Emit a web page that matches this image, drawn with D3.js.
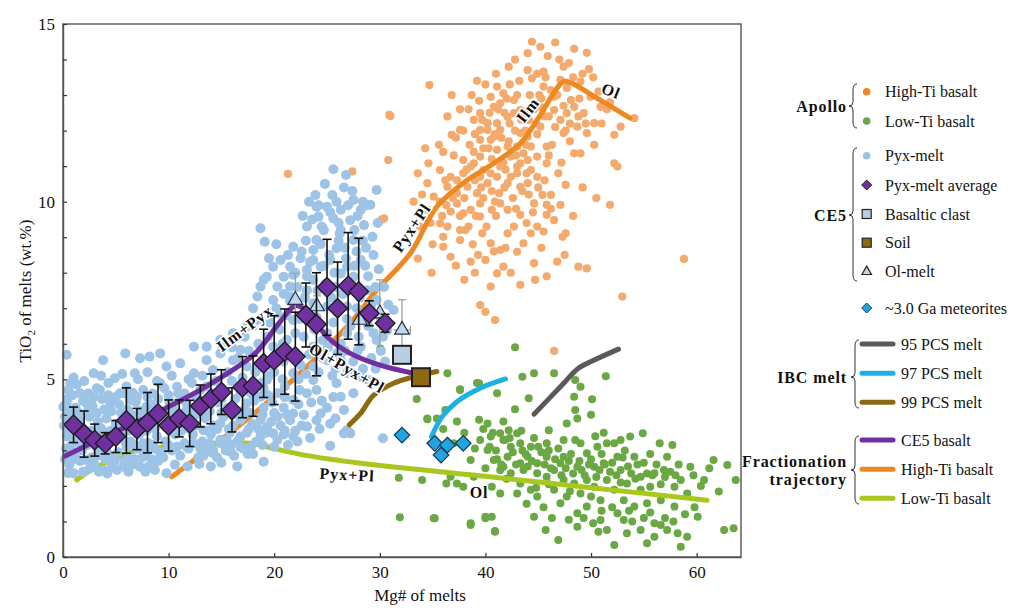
<!DOCTYPE html>
<html lang="en">
<head>
<meta charset="UTF-8">
<title>TiO2 vs Mg# of melts</title>
<script src="https://cdn.jsdelivr.net/npm/d3@7"></script>
<style>
  body { margin: 0; background: #fff; }
  svg text { font-family: "Liberation Serif", "DejaVu Serif", "Times New Roman", serif; fill: #111; }
</style>
</head>
<body>
<div id="chart"></div>
<script>
// ---- data: [Mg#, TiO2] ----
const highTiPts = [
  [46.6,14.48],[45.2,14.36],[49.6,14.19],[44.0,14.18],[42.2,13.8],[47.4,13.8],[49.8,13.73],[45.5,13.66],[34.7,13.28],[44.4,13.47],
  [41.1,13.24],[49.0,13.38],[36.8,13.0],[31.0,12.41],[39.4,12.84],[41.7,13.05],[42.7,12.86],[40.8,12.67],[39.5,12.49],[38.9,12.3],
  [40.2,12.21],[37.6,12.02],[36.8,11.88],[41.4,12.02],[40.5,11.74],[42.1,11.55],[41.1,11.46],[39.5,11.27],[30.8,11.17],[34.6,11.08],
  [35.7,10.89],[38.9,11.08],[43.3,11.08],[44.3,10.89],[45.8,11.08],[44.9,10.7],[42.1,10.52],[40.2,10.52],[36.4,10.42],[35.1,10.14],
  [37.3,9.95],[39.2,10.24],[41.3,10.24],[43.3,10.42],[45.4,10.19],[46.2,10.19],[47.6,10.47],[47.1,9.91],[45.8,9.91],[44.6,9.95],
  [30.4,9.53],[33.8,9.3],[35.7,9.39],[36.7,9.72],[38.6,9.77],[39.5,9.58],[40.6,9.77],[42.1,9.77],[43.3,9.63],[45.8,9.63],
  [47.3,9.01],[47.6,9.11],[51.8,9.91],[52.2,11.08],[52.5,10.99],[48.7,12.11],[49.6,11.93],[48.4,11.36],[49.0,11.36],[50.3,12.21],
  [52.8,12.11],[52.2,11.88],[54.1,12.35],[50.9,12.67],[49.95,12.95],[48.1,12.86],[46.5,12.58],[47.1,12.3],[45.2,12.11],[45.8,11.55],
  [47.4,11.93],[44.0,11.83],[43.6,11.36],[44.9,11.27],[37.9,10.8],[38.3,10.42],[36.7,10.7],[40.5,10.8],[43.0,10.8],[44.0,10.52],
  [36.0,9.01],[37.6,8.92],[38.4,9.3],[39.7,9.11],[40.5,8.83],[42.1,9.11],[43.6,8.83],[44.3,9.11],[45.5,9.16],[46.5,9.48],
  [36.7,8.45],[38.6,8.31],[40.0,8.36],[41.4,8.64],[43.0,8.59],[44.6,8.27],[46.8,8.31],[48.8,8.17],[49.6,8.12],[41.1,7.98],
  [41.7,8.17],[43.3,7.66],[44.7,7.8],[40.5,7.61],[39.5,7.09],[40.0,6.9],[40.9,6.67],[52.96,7.33],[34.5,10.52],[35.7,10.0],
  [34.5,9.77],[36.4,9.3],[37.6,9.2],[36.0,8.73],[39.5,11.74],[40.2,12.02],[39.5,12.02],[40.8,11.83],[41.1,12.21],[43.3,11.93],
  [43.0,11.55],[44.3,11.55],[42.4,11.27],[41.4,10.99],[43.0,10.99],[44.0,11.17],[42.1,12.39],[42.7,12.49],[43.3,12.58],[40.5,12.95],
  [41.4,12.77],[45.5,13.24],[46.2,13.14],[47.1,13.43],[46.5,12.95],[48.4,12.67],[49.3,12.49],[47.7,12.49],[45.2,12.67],[37.9,11.17],
  [38.6,10.99],[39.8,10.89],[41.1,10.7],[39.5,10.7],[42.4,10.7],[37.3,10.24],[37.9,9.67],[39.5,9.95],[41.4,9.95],[21.3,10.78],
  [27.4,10.85],[30.2,9.5],[30.9,12.44],[58.8,8.39],[46.5,5.8],
  [38.5,11.6],[39.0,11.9],[39.8,11.5],[40.6,11.2],[41.5,11.8],[42.3,12.2],[42.9,11.3],[43.8,12.0],[44.6,12.6],[45.3,12.9],
  [46.0,12.4],[46.8,13.0],[38.2,10.9],[39.6,10.4],[40.9,10.0],[41.8,10.4],[42.6,10.1],[43.5,10.3],[44.5,9.7],[45.6,10.6],
  [37.3,10.6],[38.0,10.1],[39.1,9.6],[40.1,9.3],[36.3,9.9],[35.9,9.6],[37.0,11.3],[41.2,12.6],[43.7,12.5],[44.9,11.9],
  [46.3,11.6],[47.6,12.0],[48.9,12.9],[50.7,13.1],[51.5,12.6],[49.2,13.6],[47.9,13.9],[45.9,14.1],[43.2,13.4],[44.9,13.6],
  [36.2,10.6],[36.9,10.1],[37.6,9.6],[38.1,9.2],[38.8,8.8],[39.3,8.5],[40.8,8.6],[41.9,8.7],[42.7,9.3],[43.9,9.4],
  [44.9,9.3],[45.3,8.7],[46.2,9.8],[46.9,10.8],[46.0,11.3],[47.2,11.1],[48.0,11.7],[48.8,12.4],[49.5,12.2],[50.3,11.6],
  [51.0,12.2],[51.8,12.8],[50.2,13.5],[48.3,13.5],[47.0,14.0],[45.1,13.0],[44.2,13.0],[43.0,13.0],[42.0,12.9],[41.0,13.6],
  [40.0,13.3],[39.2,13.4],[38.4,12.6],[37.9,12.0],[37.2,11.8],[36.0,11.4],[35.6,11.6],[34.3,11.5],[33.6,10.8],[33.2,10.0],
  [34.0,10.2],[34.8,9.4],[35.0,8.8],[33.6,8.4],[34.9,8.0],[37.2,8.2],[38.0,7.8],[39.0,8.0],[42.4,8.0],[45.8,7.9],
  [47.5,8.5],[48.3,9.6],[49.2,10.4],[50.5,10.1],[36.4,12.4],[37.6,12.6],[38.7,13.0],[42.8,14.0],[44.4,14.5],[48.4,14.3],
  [40.3,11.5],[40.9,11.9],[41.7,11.1],[42.2,11.7],[42.8,12.0],[43.4,12.3],[44.1,12.3],[43.8,11.6],[43.9,10.8],[41.9,10.9],
  [40.6,10.3],[39.8,10.1],[39.0,10.6],[38.9,11.4],[39.7,12.3],[41.8,12.5],[44.8,12.2],[45.6,12.4],[46.6,12.1],[47.4,12.7],
  [48.0,12.2],[47.7,13.2],[45.7,13.5],[44.0,13.7],[42.3,13.3],[40.4,12.5],[41.0,9.6],[42.9,9.8],[44.1,10.2],[45.0,10.4]
];

const lowTiPts = [
  [42.8,5.9],[36.4,5.17],[39.4,4.89],[37.6,4.72],[41.1,4.61],[43.5,5.07],[44.6,5.17],[46.5,5.17],[44.1,4.47],[42.8,4.16],
  [48.5,4.98],[49.0,4.79],[51.4,5.09],[48.4,4.51],[50.1,4.44],[48.5,4.14],[48.7,3.9],[50.0,4.0],[34.5,3.88],[35.4,3.9],
  [36.2,4.14],[37.3,3.81],[39.4,3.86],[40.2,3.76],[41.7,3.81],[42.2,3.57],[41.4,3.48],[43.0,3.48],[43.3,3.2],[44.3,3.1],
  [46.0,3.57],[47.4,3.29],[48.5,3.29],[49.6,2.92],[52.2,3.2],[52.8,3.29],[53.7,3.39],[54.9,3.48],[57.7,3.15],[57.2,2.82],
  [59.4,2.54],[61.6,2.73],[62.9,2.59],[63.7,2.17],[60.7,2.17],[62.1,1.84],[58.5,2.17],[56.0,2.36],[54.7,2.26],[54.1,2.82],
  [52.5,2.82],[51.2,2.64],[50.3,2.54],[48.7,2.54],[47.1,2.64],[45.8,2.82],[44.9,2.64],[43.3,2.64],[42.1,2.82],[41.7,2.54],
  [42.4,2.36],[43.3,2.07],[44.3,1.89],[43.0,1.79],[44.9,1.7],[46.5,1.89],[47.1,1.51],[47.7,1.7],[49.0,1.79],[49.6,1.42],
  [48.7,1.23],[50.9,1.6],[50.9,1.04],[52.5,1.23],[53.1,1.04],[54.1,1.42],[53.4,0.67],[54.7,0.76],[56.0,0.95],[57.2,0.76],
  [58.2,0.67],[59.1,0.57],[58.5,0.29],[56.0,0.57],[55.3,0.39],[52.2,0.34],[51.5,0.76],[50.7,0.71],[48.7,0.85],[46.9,0.48],
  [45.7,0.76],[44.6,1.13],[40.9,0.71],[40.0,1.13],[38.6,0.95],[35.1,1.09],[40.6,1.13],[62.6,0.76],[63.5,0.81],
  [39.5,3.29],[40.2,3.01],[40.8,2.73],[41.4,2.45],[42.4,3.1],[44.0,2.82],[44.9,2.36],[45.8,2.26],[46.5,2.45],[47.4,2.17],
  [48.4,2.07],[49.6,2.17],[50.3,1.98],[51.5,2.17],[52.8,2.45],[53.4,2.07],[55.6,1.98],[56.6,1.6],[57.9,1.42],[59.1,1.79],
  [60.1,1.13],[52.2,1.89],[43.6,2.45],[45.8,3.2],[47.4,2.82],[51.5,3.2],[38.6,2.73],[38.9,2.26],[37.9,1.98],[36.7,2.26],
  [40.6,1.98],[41.4,1.79],[54.7,1.89],[56.9,2.45],[57.9,1.98],[53.1,1.6],[55.3,1.51],[50.6,3.1],[47.7,3.76],[41.7,3.29],
  [40.5,3.39],[33.5,4.45],[34.5,3.9],[31.8,2.23],[34.0,2.17],[31.9,1.12],[35.2,1.09],[36.3,2.07],[37.3,2.07],[38.6,0.9],
  [40.0,1.09],[40.9,0.73],[37.6,4.7],[39.2,4.9],[30.05,5.87],
  [39.0,3.05],[40.7,3.5],[41.9,3.3],[42.6,2.95],[43.5,3.0],[44.0,2.55],[44.6,3.35],[45.3,2.95],[46.2,2.5],[46.9,3.05],
  [47.6,2.5],[48.1,2.9],[49.1,2.45],[49.8,2.6],[50.5,2.25],[51.0,2.9],[51.8,2.4],[52.8,2.1],[53.5,2.55],[54.2,2.2],
  [55.0,2.65],[55.8,2.3],[56.6,2.05],[57.5,2.4],[58.3,2.6],[59.7,2.3],[60.4,2.0],[42.0,2.2],[43.9,1.5],[45.5,1.4],
  [46.3,1.1],[47.9,1.05],[49.3,1.1],[50.2,0.95],[52.0,1.4],[53.9,1.0],[55.6,1.25],[57.0,1.1],[59.8,1.4],[61.2,2.5],
  [41.1,2.75],[40.0,2.5],[38.0,3.5],[37.0,3.2],[36.0,3.6],
  [39.8,3.6],[40.4,3.1],[41.0,3.0],[41.5,2.6],[42.3,3.35],[42.9,2.6],[43.4,3.55],[43.8,2.9],[44.4,2.7],[45.0,3.1],
  [45.6,2.6],[46.0,3.0],[46.6,2.75],[47.2,2.3],[47.9,2.7],[48.3,2.35],[48.9,2.7],[49.4,2.3],[50.0,2.75],[50.8,2.45],
  [51.3,2.6],[52.0,2.65],[52.4,2.3],[53.0,2.8],[53.8,2.35],[54.4,2.6],[55.3,2.35],[56.2,2.6],[57.0,2.25],[58.0,2.3],
  [49.0,3.2],[50.4,3.4],[51.2,3.5],[53.2,3.0],[55.6,2.9],[56.5,3.2],[44.8,1.95],[46.0,2.05],[48.0,1.85],[50.0,1.7],
  [51.0,1.3],[53.6,1.3],[55.0,1.1],[56.6,0.9],[57.8,1.0],[58.9,1.2]
];

const pyxMeltPts = [
  [25.6,10.91],[26.8,10.75],[23.9,10.19],[25.5,10.19],[27.5,10.05],[29.7,10.33],[24.0,9.86],[25.0,9.86],[26.3,9.77],[28.2,9.77],
  [29.1,9.91],[24.2,9.58],[25.6,9.53],[27.2,9.48],[28.5,9.34],[18.7,9.25],[23.1,9.3],[24.7,9.2],[26.3,9.2],[19.1,8.87],
  [24.0,8.92],[27.5,8.92],[29.3,9.01],[21.8,8.73],[23.7,8.64],[25.9,8.69],[19.5,8.41],[20.6,8.36],[22.5,8.41],[23.7,8.36],
  [25.3,8.36],[28.2,8.36],[19.9,8.17],[21.5,8.17],[23.1,8.08],[24.4,8.17],[26.9,8.17],[19.3,7.89],[20.9,7.89],[21.8,7.94],
  [23.7,7.8],[26.3,7.98],[27.5,7.89],[18.7,7.61],[20.3,7.61],[21.5,7.61],[23.1,7.51],[28.8,7.51],[18.4,7.33],[19.9,7.23],
  [21.5,7.33],[23.7,7.14],[25.0,7.05],[26.9,7.05],[29.7,7.23],[30.0,6.76],[31.3,6.95],
  [5.9,5.73],[7.3,5.59],[8.2,5.64],[9.2,5.73],[3.8,5.54],[2.9,5.17],[4.9,5.03],[6.8,5.17],[9.8,5.36],[11.1,5.45],
  [12.4,5.92],[13.6,5.54],[14.9,5.73],[16.1,5.54],[16.8,5.83],[12.4,5.17],[14.2,5.26],[17.4,5.36],[0.7,4.89],[1.6,4.61],
  [3.5,4.7],[5.4,4.61],[7.6,4.7],[9.2,4.89],[10.8,4.79],[13.0,4.7],[0.35,4.33],[2.2,4.33],[4.5,4.33],[6.4,4.42],
  [7.9,4.23],[10.1,4.33],[11.7,4.33],[17.4,4.33],[18.7,4.51],[20.3,4.61],[21.8,4.42],[23.1,4.61],[24.0,4.7],[25.9,4.89],
  [26.9,5.17],[28.2,5.07],[26.6,4.14],[21.8,4.04],[20.3,3.95],[18.7,3.86],[16.8,3.86],[14.9,3.76],[13.3,3.57],[11.4,3.67],
  [9.8,3.67],[6.7,3.67],[1.0,3.76],[0.35,3.39],[1.6,3.2],[4.1,3.01],[6.0,3.1],[7.9,3.01],[9.2,2.92],[10.8,3.1],
  [12.4,3.2],[14.2,3.01],[15.5,3.29],[16.8,3.39],[18.7,3.39],[19.9,3.48],[21.8,3.39],[23.1,3.67],[24.4,4.04],[26.6,3.48],
  [26.9,3.57],[30.3,3.34],[2.2,2.73],[1.0,2.36],[2.56,2.5],[3.8,2.45],[5.7,2.54],[7.3,2.54],[8.6,2.64],[9.8,2.36],
  [14.2,2.92],[19.0,2.68],[16.8,3.1],[14.9,3.2],
  [18.7,6.67],[17.4,6.48],[16.1,6.3],[14.9,6.11],[13.6,5.92],[20.3,6.86],[21.8,6.67],[21.2,6.11],[19.9,5.92],[23.7,5.92],
  [25.0,5.54],[26.3,5.54],[23.7,5.36],[21.8,5.17],[19.3,4.98],[23.7,4.98],[25.0,6.3],[26.9,6.3],[28.2,5.92],[29.4,6.3],
  [30.7,6.39],[26.3,4.51],[27.5,4.61],[0.35,5.69],[0.03,4.23],[0.5,2.36],[25.3,3.13],[27.2,3.48],
  // dense band
  [0.5,4.7],[1.3,4.85],[2.4,4.6],[3.2,4.75],[4.3,4.55],[6.0,4.8],[7.0,4.5],[8.5,4.6],[9.6,4.75],[11.5,4.6],
  [12.2,4.9],[13.6,4.8],[15.2,4.6],[16.0,4.95],[17.5,4.75],[18.8,4.9],[19.5,5.1],[20.8,5.0],
  [0.4,4.45],[1.2,4.2],[1.9,4.4],[2.8,4.25],[3.7,4.45],[4.6,4.1],[5.3,4.3],[6.1,4.15],[6.9,4.35],[7.7,4.1],
  [8.6,4.3],[9.4,4.05],[10.4,4.2],[11.2,4.45],[12.1,4.15],[13.0,4.35],[13.9,4.1],[14.7,4.35],[15.6,4.2],[16.3,4.45],
  [17.2,4.15],[18.1,4.4],[19.0,4.2],[19.8,4.35],[20.9,4.2],[22.3,4.3],[23.5,4.35],[25.0,4.2],
  [0.2,3.95],[0.9,4.0],[1.6,3.85],[2.5,3.95],[3.3,3.8],[4.1,3.9],[5.0,3.75],[5.8,3.95],[6.6,3.75],[7.5,3.9],
  [8.3,3.7],[9.1,3.85],[10.0,3.95],[10.9,3.75],[11.8,3.95],[12.6,3.7],[13.5,3.9],[14.3,3.7],[15.2,3.95],[16.1,3.7],
  [17.0,3.95],[17.9,3.75],[18.9,4.0],[19.7,3.8],[20.6,3.7],[21.5,3.85],[22.6,3.7],[24.0,3.85],[25.3,3.75],
  [0.5,3.5],[1.2,3.3],[2.0,3.45],[2.9,3.25],[3.8,3.45],[4.7,3.3],[5.5,3.5],[6.4,3.25],[7.2,3.45],[8.1,3.2],
  [8.9,3.4],[9.7,3.25],[10.6,3.45],[11.5,3.2],[12.3,3.45],[13.2,3.25],[14.0,3.45],[14.9,3.3],[15.8,3.5],[16.5,3.25],
  [17.4,3.5],[18.3,3.25],[19.2,3.5],[20.3,3.3],[21.0,3.55],[22.2,3.25],[23.4,3.35],
  [0.3,3.05],[1.0,2.85],[1.8,3.0],[2.7,2.8],[3.5,3.0],[4.4,2.85],[5.2,2.95],[6.2,2.8],[7.0,3.05],[7.8,2.85],
  [8.7,3.05],[9.5,2.8],[10.3,3.0],[11.1,2.85],[11.9,3.05],[12.8,2.8],[13.7,3.0],[14.6,2.8],[15.4,3.0],[16.2,2.85],
  [17.1,3.05],[18.0,2.9],
  [0.6,2.6],[1.6,2.7],[3.0,2.6],[4.6,2.55],[5.8,2.7],[6.6,2.6],[8.1,2.55],[9.0,2.7],[10.6,2.6],[11.8,2.55],
  [12.9,2.62],[14.0,2.55],[15.0,2.65],[16.5,2.55],
  [1.0,5.05],[2.0,4.95],[3.6,5.1],[4.3,4.9],[5.6,5.15],[7.1,5.0],[8.0,5.2],[8.9,4.95],[10.3,5.1],[11.9,5.0],
  [13.2,5.1],[14.5,4.95],[15.6,5.2],[17.0,5.05],[18.2,5.2],
  [0.9,4.55],[2.9,4.5],[5.0,4.5],[5.8,4.6],[6.6,4.62],[8.0,4.5],[9.0,4.45],[10.0,4.55],[10.9,4.6],[12.6,4.5],
  [14.2,4.6],[15.0,4.45],[16.8,4.6],[18.0,4.6],[19.4,4.55],[21.0,4.5],
  [0.7,4.1],[1.5,4.05],[2.4,4.15],[3.2,4.05],[3.9,4.15],[5.5,4.05],[6.5,4.0],[7.3,4.1],[8.2,4.05],[9.9,4.1],
  [10.8,4.0],[11.6,4.1],[12.5,4.0],[13.4,4.05],[15.0,4.05],[16.0,4.0],[17.7,4.05],[20.0,4.05],[21.2,4.0],[22.8,4.0],
  [24.5,4.4],[25.6,4.5],
  [0.1,3.7],[0.8,3.65],[1.9,3.6],[2.7,3.55],[3.6,3.62],[4.5,3.55],[5.4,3.65],[6.2,3.55],[7.0,3.65],[7.9,3.55],
  [8.7,3.6],[10.4,3.6],[11.2,3.55],[12.0,3.6],[13.8,3.55],[14.6,3.6],[15.7,3.6],[17.6,3.6],[18.5,3.6],[19.3,3.65],
  [20.9,3.45],[22.0,3.55],[24.3,3.6],[25.8,3.9],
  [0.8,3.15],[2.3,3.15],[3.2,3.1],[4.0,3.2],[5.9,3.25],[6.8,3.15],[7.6,3.2],[8.5,3.15],[10.0,3.15],[11.7,3.1],
  [13.0,3.05],[13.9,3.2],[15.9,3.15],[17.8,3.1],[18.9,3.15],[20.0,3.1],[21.3,3.15],
  [0.2,2.75],[1.3,2.75],[3.2,2.85],[4.0,2.75],[4.9,2.7],[6.8,2.75],[7.5,2.8],[8.4,2.75],[9.4,2.95],[13.3,2.85],
  [15.9,2.95],[17.5,2.9],[1.9,2.4],[3.4,2.4],[4.2,2.35],[5.1,2.45],[6.2,2.4],[7.8,2.4],[8.7,2.45],
  // tall column
  [22.5,5.4],[23.3,5.7],[24.2,5.2],[25.1,5.9],[25.8,5.3],[26.7,5.8],[27.5,5.5],[28.4,5.3],[29.2,5.6],[30.1,5.8],
  [22.8,6.2],[23.8,6.4],[24.6,6.1],[25.6,6.6],[26.3,6.0],[27.2,6.5],[28.0,6.2],[28.9,6.5],[29.7,6.1],
  [22.2,7.6],[23.1,7.9],[24.1,7.5],[24.9,7.7],[25.7,8.0],[26.5,7.4],[27.3,7.8],[28.1,7.3],[28.9,7.9],[29.6,7.6],
  [22.6,8.6],[23.4,8.3],[24.4,8.8],[25.2,8.5],[26.1,8.9],[26.8,8.4],[27.8,8.6],[28.6,8.2],[29.4,8.5],
  [23.6,9.5],[24.5,9.3],[25.3,9.7],[26.1,9.4],[27.0,9.9],[27.9,9.6],[28.8,9.9],[26.6,10.4],[24.8,10.5],
  [20.5,6.4],[21.2,6.8],[19.4,6.2],[18.5,6.0],[17.6,5.8],[16.6,5.6],[20.9,5.5],[19.6,5.4],[18.4,5.3],[21.5,7.2],
  [20.2,7.0],[22.0,6.3],
  [22.3,5.0],[23.0,5.15],[24.6,5.6],[25.5,5.1],[26.0,5.75],[27.0,5.25],[27.9,5.8],[28.8,5.0],[29.6,5.3],[30.5,5.5],
  [22.4,6.7],[23.2,6.9],[24.0,6.75],[25.4,7.3],[26.0,6.9],[26.9,6.7],[27.8,7.0],[28.5,6.8],[29.2,7.1],[30.3,6.2],
  [22.9,7.3],[24.7,8.2],[25.8,7.6],[26.7,8.7],[27.6,8.2],[28.4,8.9],[29.9,8.1],[30.4,7.6],[30.8,7.1],[22.0,8.0],
  [23.0,8.9],[24.2,9.9],[25.9,10.0],[27.4,10.3],[28.4,10.0],[23.3,10.0],[26.2,9.1],[27.6,9.2],[28.7,8.7],[29.8,9.4],
  [20.9,7.4],[21.3,8.5],[20.2,8.8],[22.7,9.6],[19.0,7.8],[18.0,7.0],[17.2,6.2],[16.0,5.9],[15.1,5.95],[18.0,6.5],
  [19.6,6.6],[20.8,6.0],[17.8,4.6],[19.0,4.75],[20.0,5.2],[21.0,4.8],[22.4,4.7]
];

// Pyx-melt averages with 1 sd bars
const avgMg  = [1,2,3,4,5,6,7,8,9,10,11,12,13,14,15,16,17,18,19,20,21,22,23,24,25,26,27,28,29,30.5];
const avgTi  = [3.72,3.46,3.29,3.2,3.39,3.84,3.6,3.78,4.04,3.7,3.9,3.76,4.25,4.45,4.64,4.14,4.78,4.81,5.45,5.54,
                5.78,5.64,6.81,6.55,7.59,7.0,7.63,7.47,6.86,6.58];
const avgErr = [0.5,0.65,0.45,0.3,0.45,0.92,0.58,0.85,0.82,0.72,0.52,0.65,0.59,0.7,0.63,0.62,0.86,0.85,0.96,1.25,
                1.2,1.25,0.9,1.45,1.35,1.3,1.5,1.5,0.35,0.25];

// Ol-melt
const olMg    = [22.0,24.05,28.1,30.0,32.1];
const olTi    = [7.23,7.05,6.67,6.85,6.39];
const olErr   = [0.75,0.3,0.3,0.95,0.85];
const olErrMg = [0,0,0,0,0.8];

const clastPt = [32.1,5.69];
const soilPt  = [33.9,5.06];
const meteoritePts = [[32.1,3.43],[35.2,3.2],[36.4,3.15],[35.8,2.87],[37.9,3.2]];

// IBC melt curves
const pcs95 = [[44.6,4.02],[47.1,4.79],[48.8,5.31],[50.0,5.5],[52.6,5.85]];
const pcs97 = [[34.9,3.39],[35.9,3.95],[37.3,4.37],[39.5,4.75],[41.9,5.01]];
const pcs99 = [[27.1,3.72],[28.2,4.05],[29.4,4.55],[31.3,4.89],[33.2,5.07],[35.4,5.22]];

// fractionation trajectories
const trajCE5 = [[0.2,2.84],[4,3.39],[8.7,4.04],[13.5,4.79],[18.2,5.73],[20.5,6.6],[22.1,7.08],[23.4,6.81],
                 [25,6.2],[27.2,5.73],[30.1,5.39],[33.2,5.17]];
const trajHighTi = [[10.3,2.26],[13.46,2.96],[19.43,4.37],[27.2,6.58],[29.7,7.51],[32.9,8.55],[35.4,9.86],[38.3,10.61],
                    [40.8,11.08],[43.3,11.64],[44.9,12.3],[47.4,13.38],[48.2,13.33],[50.3,12.96],[53.7,12.35]];
const trajLowTi = [[1.3,2.17],[3,2.5],[6.5,2.96],[12,3.15],[17.7,3.2],[20,3.05],[23,2.86],[28.2,2.64],[40,2.27],
                   [50,1.95],[61,1.6]];

// phase labels on the plot: text, Mg#, TiO2, angle
const phaseLabels = [
  ["Ilm+Pyx", 17.2, 6.44, -37],
  ["Ol+Pyx+Pl", 26.9, 5.32, 30],
  ["Pyx+Pl", 33.0, 9.27, -56],
  ["Ilm", 44.0, 12.58, -52],
  ["Ol", 51.9, 13.12, 22],
  ["Pyx+Pl", 26.9, 2.32, 3],
  ["Ol", 39.4, 1.82, 0]
];

const xTicks = [0,10,20,30,40,50,60];
const yLabelTicks = [0,5,10,15];

const apolloLabels = ["High-Ti basalt", "Low-Ti basalt"];
const ce5Labels = ["Pyx-melt", "Pyx-melt average", "Basaltic clast", "Soil", "Ol-melt"];
const meteoriteLabel = "~3.0 Ga meteorites";
const ibcLabels = ["95 PCS melt", "97 PCS melt", "99 PCS melt"];
const trajLabels = ["CE5 basalt", "High-Ti basalt", "Low-Ti basalt"];

// ---- drawing ----
const col = {
  hiDot: "#f4aa6c", hiLeg: "#f0862a", lo: "#6aa843", pyx: "#9dc3e6", avg: "#7030a0",
  clast: "#b8cde2", soil: "#8d6a12", ol: "#bdd7ee", met: "#1fa5df",
  p95: "#5a5a5a", p97: "#1cb0e6", p99: "#8c6a14", tCE5: "#7030a0", tHi: "#ee8820", tLo: "#a8c81e"
};
const serif = '"Liberation Serif","DejaVu Serif","Times New Roman",serif';

const W = 1036, H = 615;
const svg = d3.select("#chart").append("svg").attr("width", W).attr("height", H)
  .style("font-family", serif);

const x = d3.scaleLinear().domain([0, 64.2]).range([63, 741]);
const y = d3.scaleLinear().domain([0, 15]).range([557, 24]);

const line = d3.line().x(d => x(d[0])).y(d => y(d[1])).curve(d3.curveCatmullRom.alpha(0.5));

function dots(data, r, fill) {
  svg.append("g").selectAll("circle").data(data).enter().append("circle")
    .attr("cx", d => x(d[0])).attr("cy", d => y(d[1])).attr("r", r).attr("fill", fill);
}
function traj(data, color, w) {
  svg.append("path").datum(data).attr("d", line).attr("fill", "none")
    .attr("stroke", color).attr("stroke-width", w || 5).attr("stroke-linecap", "round");
}
const diamond = r => `M0,${-r}L${r},0L0,${r}L${-r},0Z`;

dots(highTiPts, 4.1, col.hiDot);
dots(lowTiPts, 4.0, col.lo);
traj(trajHighTi, col.tHi);
traj(trajLowTi, col.tLo);
dots(pyxMeltPts, 5.0, col.pyx);
traj(trajCE5, col.tCE5);
traj(pcs95, col.p95);
traj(pcs97, col.p97);
traj(pcs99, col.p99);

// phase labels with white halo
svg.append("g").selectAll("text").data(phaseLabels).enter().append("text")
  .attr("transform", d => `translate(${x(d[1])},${y(d[2])}) rotate(${d[3]})`)
  .attr("text-anchor", "middle").attr("dy", "0.35em")
  .attr("font-size", 16).attr("font-weight", "bold").attr("letter-spacing", 1)
  .attr("stroke", "#fff").attr("stroke-width", 3).attr("paint-order", "stroke")
  .text(d => d[0]);

// Ol-melt triangles and grey bars
const olG = svg.append("g");
olMg.forEach((m, i) => {
  const cx = x(m), cy = y(olTi[i]);
  const t = y(olTi[i] + olErr[i]), b = y(olTi[i] - olErr[i]);
  olG.append("line").attr("x1", cx).attr("x2", cx).attr("y1", t).attr("y2", b).attr("stroke", "#a0a0a0").attr("stroke-width", 1.3);
  olG.append("line").attr("x1", cx - 4).attr("x2", cx + 4).attr("y1", t).attr("y2", t).attr("stroke", "#a0a0a0").attr("stroke-width", 1.3);
  if (olErrMg[i] > 0) {
    const l = x(m - olErrMg[i]), r = x(m + olErrMg[i]);
    olG.append("line").attr("x1", l).attr("x2", r).attr("y1", cy).attr("y2", cy).attr("stroke", "#a0a0a0").attr("stroke-width", 1.3);
    olG.append("line").attr("x1", r).attr("x2", r).attr("y1", cy - 4).attr("y2", cy + 4).attr("stroke", "#a0a0a0").attr("stroke-width", 1.3);
  }
  olG.append("path").attr("d", d3.symbol(d3.symbolTriangle, 95)())
    .attr("transform", `translate(${cx},${cy})`)
    .attr("fill", col.ol).attr("stroke", "#2a3440").attr("stroke-width", 1.2);
});

// Pyx-melt averages
const avgG = svg.append("g");
avgMg.forEach((m, i) => {
  const cx = x(m), t = y(avgTi[i] + avgErr[i]), b = y(avgTi[i] - avgErr[i]);
  avgG.append("line").attr("x1", cx).attr("x2", cx).attr("y1", t).attr("y2", b).attr("stroke", "#111").attr("stroke-width", 1.6);
  [t, b].forEach(v => avgG.append("line").attr("x1", cx - 4.5).attr("x2", cx + 4.5).attr("y1", v).attr("y2", v)
    .attr("stroke", "#111").attr("stroke-width", 1.6));
});
avgMg.forEach((m, i) => {
  avgG.append("path").attr("d", diamond(9.8)).attr("transform", `translate(${x(m)},${y(avgTi[i])})`)
    .attr("fill", col.avg).attr("stroke", "#1a1a1a").attr("stroke-width", 1.3);
});

// clast and soil squares
[[clastPt, col.clast], [soilPt, col.soil]].forEach(([p, c]) => {
  svg.append("rect").attr("x", x(p[0]) - 9).attr("y", y(p[1]) - 9).attr("width", 18).attr("height", 18)
    .attr("fill", c).attr("stroke", "#222").attr("stroke-width", 2);
});

// meteorites
svg.append("g").selectAll("path").data(meteoritePts).enter().append("path")
  .attr("d", diamond(7.8)).attr("transform", d => `translate(${x(d[0])},${y(d[1])})`)
  .attr("fill", col.met).attr("stroke", "#163a56").attr("stroke-width", 1.2);

// frame and axes
svg.append("rect").attr("x", 63).attr("y", 24).attr("width", 741 - 63).attr("height", 557 - 24)
  .attr("fill", "none").attr("stroke", "#555").attr("stroke-width", 1.4);

const xAxis = svg.append("g").attr("transform", "translate(0,557)")
  .call(d3.axisBottom(x).tickValues(xTicks).tickSize(-4).tickSizeOuter(0).tickPadding(9));
const yAxis = svg.append("g").attr("transform", "translate(63,0)")
  .call(d3.axisLeft(y).tickValues(d3.range(0, 16)).tickSize(-4).tickSizeOuter(0).tickPadding(8)
    .tickFormat(d => yLabelTicks.includes(d) ? d : ""));
[xAxis, yAxis].forEach(a => {
  a.attr("font-family", serif);
  a.select(".domain").attr("stroke", "#555").attr("stroke-width", 1.4);
  a.selectAll(".tick line").attr("stroke", "#333").attr("stroke-width", 1.2);
  a.selectAll(".tick text").attr("font-size", 17).attr("fill", "#222");
});

svg.append("text").attr("x", 420).attr("y", 601).attr("text-anchor", "middle")
  .attr("font-size", 17).text("Mg# of melts");

const yt = svg.append("text").attr("transform", "translate(31,291) rotate(-90)")
  .attr("text-anchor", "middle").attr("font-size", 17);
yt.append("tspan").text("TiO");
yt.append("tspan").attr("font-size", 11).attr("dy", 4).text("2");
yt.append("tspan").attr("dy", -4).text(" of melts (wt.%)");

// ---- legend ----
const lg = svg.append("g");
const mx = 866.7, tx = 885;

function brace(xb, y0, y1, ym) {
  lg.append("path")
    .attr("d", `M${xb + 4},${y0} Q${xb},${y0} ${xb},${y0 + 6} L${xb},${ym - 4} Q${xb},${ym} ${xb - 4},${ym}`
      + ` Q${xb},${ym} ${xb},${ym + 4} L${xb},${y1 - 6} Q${xb},${y1} ${xb + 4},${y1}`)
    .attr("fill", "none").attr("stroke", "#333").attr("stroke-width", 1);
}
function groupLabel(lines, yc) {
  lines.forEach((t, i) => {
    lg.append("text").attr("x", 847).attr("y", yc + (i - (lines.length - 1) / 2) * 17.6).attr("dy", "0.35em")
      .attr("text-anchor", "end").attr("font-size", 16).attr("font-weight", "bold").attr("letter-spacing", 0.9).text(t);
  });
}
function legText(t, xx, yy) {
  lg.append("text").attr("x", xx).attr("y", yy).attr("dy", "0.35em").attr("font-size", 16).text(t);
}

// Apollo
const apolloY = [91.7, 121];
lg.append("circle").attr("cx", mx).attr("cy", apolloY[0]).attr("r", 3.8).attr("fill", col.hiLeg);
lg.append("circle").attr("cx", mx).attr("cy", apolloY[1]).attr("r", 3.8).attr("fill", col.lo);
apolloLabels.forEach((t, i) => legText(t, tx, apolloY[i]));
brace(853, 84, 128, 106);
groupLabel(["Apollo"], 106);

// CE5
const ce5Y = [155.7, 185, 214, 242.7, 271.7];
lg.append("circle").attr("cx", mx).attr("cy", ce5Y[0]).attr("r", 3.8).attr("fill", col.pyx);
lg.append("path").attr("d", diamond(5)).attr("transform", `translate(${mx},${ce5Y[1]})`)
  .attr("fill", col.avg).attr("stroke", "#222").attr("stroke-width", 1);
lg.append("rect").attr("x", mx - 4.5).attr("y", ce5Y[2] - 4.5).attr("width", 9).attr("height", 9)
  .attr("fill", col.clast).attr("stroke", "#222").attr("stroke-width", 1.2);
lg.append("rect").attr("x", mx - 4.5).attr("y", ce5Y[3] - 4.5).attr("width", 9).attr("height", 9)
  .attr("fill", col.soil).attr("stroke", "#222").attr("stroke-width", 1.2);
lg.append("path").attr("d", d3.symbol(d3.symbolTriangle, 40)()).attr("transform", `translate(${mx},${ce5Y[4]})`)
  .attr("fill", col.ol).attr("stroke", "#222").attr("stroke-width", 1.2);
ce5Labels.forEach((t, i) => legText(t, tx, ce5Y[i]));
brace(853, 148, 281, 215);
groupLabel(["CE5"], 215);

// meteorites
lg.append("path").attr("d", diamond(5)).attr("transform", `translate(${mx},308)`)
  .attr("fill", col.met).attr("stroke", "#163a56").attr("stroke-width", 1);
legText(meteoriteLabel, tx, 308);

// IBC melt
const ibcY = [344, 373.3, 402.3];
[col.p95, col.p97, col.p99].forEach((c, i) => {
  lg.append("line").attr("x1", 862).attr("x2", 893).attr("y1", ibcY[i]).attr("y2", ibcY[i])
    .attr("stroke", c).attr("stroke-width", 5).attr("stroke-linecap", "round");
});
ibcLabels.forEach((t, i) => legText(t, 901, ibcY[i]));
brace(855, 340, 408, 377);
groupLabel(["IBC melt"], 377);

// fractionation trajectories
const trY = [440, 469.3, 498.3];
[col.tCE5, col.tHi, col.tLo].forEach((c, i) => {
  lg.append("line").attr("x1", 862).attr("x2", 893).attr("y1", trY[i]).attr("y2", trY[i])
    .attr("stroke", c).attr("stroke-width", 5).attr("stroke-linecap", "round");
});
trajLabels.forEach((t, i) => legText(t, 901, trY[i]));
brace(855, 436, 504, 470);
groupLabel(["Fractionation", "trajectory"], 470.5);
</script>
</body>
</html>
